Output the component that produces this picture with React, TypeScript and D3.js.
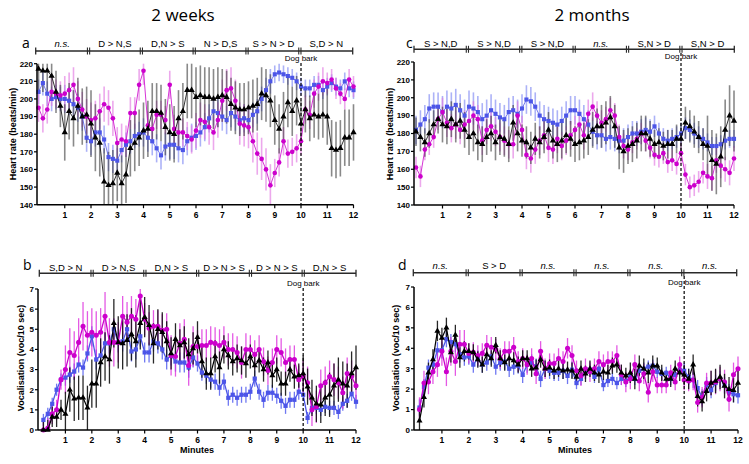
import React from "react";
import * as d3 from "d3";

// ---------- tick labels / categories ----------
const minuteTicks = [1, 2, 3, 4, 5, 6, 7, 8, 9, 10, 11, 12];
const hrTicks = [140, 150, 160, 170, 180, 190, 200, 210, 220];
const vocTicks = [0, 1, 2, 3, 4, 5, 6, 7];

const sigLabelsA = ["n.s.", "D > N,S", "D,N > S", "N > D,S", "S > N > D", "S,D > N"];
const sigLabelsB = ["S,D > N", "D > N,S", "D,N > S", "D > N > S", "D > N > S", "D,N > S"];
const sigLabelsC = ["S > N,D", "S > N,D", "S > N,D", "n.s.", "S,N > D", "S,N > D"];
const sigLabelsD = ["n.s.", "S > D", "n.s.", "n.s.", "n.s.", "n.s."];

// ---------- panel a : heart rate, 2 weeks (every 10 s, 0..12 min) ----------
const hrA_blue = [204,209,203,200,201,200,200,199,197,195, 190,178,176,181,181,177,167,166,165,171, 174,176,179,180,181,178,176,172,168,173, 174,174,172,171,176,178,179,181,184,189, 193,192,190,188,192,190,188,189,188,191, 193,200,205,210,214,215,214,213,212,210, 207,206,206,208,208,205,207,209,207,206, 210,206,205];
const hrA_magenta = [195,189,194,204,203,202,203,205,208,200, 194,190,188,189,193,197,195,189,175,177, 176,192,192,208,216,185,183,191,191,188, 208,183,181,181,179,177,182,188,187,184, 181,188,199,205,206,199,186,185,184,176, 169,166,160,151,158,164,176,169,170,172, 176,194,191,203,207,210,209,211,206,203, 200,211,207];
const hrA_black = [217,216,216,213,204,196,181,193,189,196, 190,191,186,178,175,153,151,152,158,152, 157,172,175,178,182,183,193,193,192,184, 181,180,189,193,205,205,201,202,201,201, 200,201,202,201,197,195,194,194,195,196, 197,203,202,199,188,183,190,198,193,199, 186,194,189,191,190,191,190,172,171,172, 178,178,181];
// error half-widths per minute
const errA_blue = [7, 8, 8, 7, 8, 8, 8, 8, 7, 5, 5, 5];
const errA_magenta = [8, 10, 10, 9, 8, 8, 10, 12, 12, 8, 8, 6];
const errA_black = [12, 16, 19, 16, 16, 16, 17, 15, 15, 14, 13, 16];

// ---------- panel b : vocalisation, 2 weeks (every 10 s, 10 s..12 min) ----------
const vocB_blue = [0.5,0.8,1.3,2.0,2.5,2.6,2.75,2.9,3.25,3.1, 3.8,4.65,3.5,3.7,4.3,4.3,5.0,4.35,4.4,5.0, 3.9,4.0,4.65,3.85,3.85,4.4,4.3,4.0,3.5,3.7, 3.4,3.35,3.35,3.1,3.6,3.3,2.85,2.7,2.5,2.4, 2.1,2.4,1.6,1.75,1.6,1.75,1.75,1.9,2.55,1.9, 1.5,1.85,1.85,1.7,1.45,1.2,1.5,1.5,1.9,1.75, 0.6,1.1,1.1,1.0,1.15,1.1,1.1,0.9,1.3,1.45, 1.8,1.4];
const vocB_magenta = [0,0.1,0.8,1.0,2.5,3.0,3.85,3.7,4.35,5.15, 4.7,4.85,4.7,4.85,5.65,4.35,4.35,4.35,5.65,5.35, 5.65,5.5,6.65,5.5,5.05,5.15,5.15,4.95,5.0,3.7, 3.65,4.3,4.5,3.2,4.15,4.15,4.2,4.2,4.35,4.3, 4.2,4.35,4.0,4.0,3.85,3.35,4.0,4.0,3.75,4.0, 3.4,2.95,3.35,4.0,3.85,3.35,3.5,3.5,2.5,2.65, 2.35,1.0,1.15,2.2,2.35,2.65,2.5,2.35,1.85,2.8, 2.65,2.2];
const vocB_black = [0,0,0.65,0.65,1.0,0.8,2.0,1.55,1.6,1.6, 1.1,2.3,2.3,3.35,3.65,3.5,5.3,4.35,4.3,4.45, 4.75,4.4,5.3,5.6,5.2,4.3,5.0,4.85,4.4,3.8, 4.5,4.2,4.35,3.75,4.05,4.6,3.4,2.8,2.8,3.65, 3.1,4.0,3.7,3.4,3.55,3.45,3.3,3.65,3.2,3.45, 3.0,3.35,2.7,3.0,2.3,2.3,3.0,2.65,2.7,2.8, 2.15,1.6,1.3,1.25,1.6,1.75,2.2,2.5,2.3,2.2, 2.8,3.1];
const errB_blue = [0.3, 0.4, 0.5, 0.5, 0.5, 0.5, 0.4, 0.4, 0.4, 0.4, 0.3, 0.35];
const errB_magenta = [0.5, 1.2, 1.2, 1.0, 0.8, 1.0, 0.8, 0.8, 0.7, 0.7, 0.8, 0.8];
const errB_black = [0.5, 1.1, 1.2, 1.3, 1.0, 0.8, 0.8, 0.7, 0.6, 0.6, 0.9, 1.1];

// ---------- panel c : heart rate, 2 months ----------
const hrC_blue = [182,185,188,194,195,195,192,195,194,196, 193,190,195,194,192,188,190,193,191,189, 188,192,193,191,194,199,198,195,190,188, 187,186,185,187,190,193,193,191,188,185, 181,179,179,177,178,177,176,176,178,180, 180,181,182,181,184,180,177,176,177,178, 180,183,182,180,178,177,175,173,173,174, 176,177,177];
const hrC_magenta = [161,156,171,174,178,188,192,186,183,185, 182,185,187,190,188,176,182,184,181,178, 176,174,174,190,182,168,166,171,176,179, 172,171,177,173,176,179,182,185,179,191, 195,190,186,188,193,190,178,173,171,175, 177,180,176,172,168,167,169,164,165,163, 169,157,150,151,153,158,156,155,165,162, 160,158,166];
const hrC_black = [181,178,175,180,185,188,185,184,188,185, 187,182,178,180,175,174,178,180,175,178, 177,174,186,180,176,175,172,177,175,178, 182,176,174,176,179,177,174,175,176,178, 182,184,184,186,189,184,172,170,173,174, 176,180,180,177,174,175,173,174,174,177, 177,186,184,181,178,174,173,165,163,167, 182,190,187];
const errC_blue = [8, 9, 9, 8, 8, 8, 8, 7, 7, 6, 6, 5];
const errC_magenta = [6, 8, 8, 8, 8, 8, 8, 7, 6, 6, 6, 7];
const errC_black = [8, 10, 10, 10, 9, 10, 10, 12, 10, 8, 9, 17];

// ---------- panel d : vocalisation, 2 months ----------
const vocD_blue = [1.1,2.1,3.05,3.2,3.9,3.9,4.45,4.3,4.2,3.7, 3.55,3.6,3.2,3.5,3.2,3.3,3.6,3.1,3.3,3.35, 3.0,3.1,3.15,2.7,3.2,3.3,3.1,2.5,3.0,2.9, 2.8,2.8,2.9,2.65,2.95,2.3,2.5,2.8,2.95,2.6, 3.0,2.2,2.4,2.5,2.3,2.5,2.4,2.6,2.5,2.9, 3.0,3.1,3.15,2.85,2.75,2.8,2.5,2.7,2.95,2.9, 2.6,2.45,2.05,1.6,2.2,1.95,2.3,2.5,2.2,1.85, 1.75,1.7];
const vocD_magenta = [1.0,2.3,2.35,2.85,3.2,3.85,2.85,3.85,3.35,4.2, 4.2,3.75,3.8,3.65,3.75,4.15,4.05,3.95,3.5,3.85, 3.85,4.05,3.35,3.5,3.2,3.5,2.75,3.85,3.0,3.25, 3.25,3.5,3.35,4.0,3.65,2.9,2.65,3.0,2.85,3.0, 3.35,3.2,3.35,3.35,3.65,2.7,2.35,2.5,3.2,2.4, 2.75,1.85,2.85,2.2,2.2,2.2,2.8,2.35,3.2,2.45, 2.4,2.45,1.35,1.6,2.3,2.3,2.35,2.5,2.35,1.5, 2.7,3.0];
const vocD_black = [0.45,1.6,2.8,3.45,4.85,4.5,5.0,3.8,4.65,3.55, 3.85,3.85,3.8,3.45,3.2,3.7,3.5,4.15,3.5,3.3, 3.5,3.4,3.2,3.5,3.5,3.0,3.05,3.45,3.0,3.05, 2.9,3.0,2.9,2.95,2.9,2.6,3.0,2.75,3.0,2.8, 2.7,2.85,2.8,3.15,3.2,2.8,2.65,2.8,2.5,3.15, 3.0,2.8,3.15,3.15,2.8,2.5,2.5,3.0,2.8,2.7, 2.5,3.2,1.65,1.4,1.9,2.3,2.4,2.6,2.15,2.0, 1.95,2.3];
const errD_blue = [0.4, 0.4, 0.4, 0.4, 0.4, 0.4, 0.3, 0.3, 0.3, 0.3, 0.4, 0.4];
const errD_magenta = [0.6, 0.7, 0.5, 0.5, 0.5, 0.5, 0.5, 0.5, 0.5, 0.4, 0.5, 0.6];
const errD_black = [0.5, 0.5, 0.4, 0.4, 0.4, 0.4, 0.4, 0.4, 0.5, 0.4, 0.5, 0.6];

// ---------- styling ----------
const FONT = "'Liberation Sans', Arial, sans-serif";
const TITLE_FONT = "'Open Sans', 'Liberation Sans', sans-serif";
const BLUE = "#4c55e8";
const MAG = "#cc00cc";
const BLK = "#000000";

type Series = {
  values: number[];
  err: number[];
  color: string;
  errColor: string;
  errOpacity: number;
  errWidth: number;
  shape: d3.SymbolType;
  size: number;
  lineWidth: number;
};

type PanelCfg = {
  axisX: number;
  xRange: [number, number];
  yDomain: [number, number];
  yRange: [number, number];
  yTicks: number[];
  start: number;
  series: Series[];
  bar: { x0: number; x1: number; y: number; labels: string[]; labelY: number };
  dogY: number;
  dogLineTop: number;
  letter: { x: number; y: number; t: string };
  yLabel: { x: number; y: number; t: string };
  minutes?: { x: number; y: number };
};

function hrSeries(values: number[], err: number[], kind: "b" | "m" | "k"): Series {
  if (kind === "b")
    return { values, err, color: BLUE, errColor: "#7f88f3", errOpacity: 0.65, errWidth: 1.6, shape: d3.symbolSquare, size: 17, lineWidth: 0.8 };
  if (kind === "m")
    return { values, err, color: MAG, errColor: "#e27ae2", errOpacity: 0.65, errWidth: 1.6, shape: d3.symbolCircle, size: 17, lineWidth: 0.8 };
  return { values, err, color: BLK, errColor: "#3a3a3a", errOpacity: 0.6, errWidth: 1.6, shape: d3.symbolTriangle, size: 17, lineWidth: 0.8 };
}
function vocSeries(values: number[], err: number[], kind: "b" | "m" | "k"): Series {
  if (kind === "b")
    return { values, err, color: BLUE, errColor: "#5660ee", errOpacity: 0.85, errWidth: 1.3, shape: d3.symbolSquare, size: 18, lineWidth: 1.3 };
  if (kind === "m")
    return { values, err, color: MAG, errColor: "#dd30dd", errOpacity: 0.8, errWidth: 1.3, shape: d3.symbolCircle, size: 20, lineWidth: 1.3 };
  return { values, err, color: BLK, errColor: "#111111", errOpacity: 0.9, errWidth: 1.3, shape: d3.symbolTriangle, size: 16, lineWidth: 1.2 };
}

type Pt = { t: number; v: number; e: number };

function Panel({ c }: { c: PanelCfg }) {
  const x = d3.scaleLinear().domain([0, 12]).range(c.xRange);
  const y = d3.scaleLinear().domain(c.yDomain).range(c.yRange);
  const bx = d3.scaleLinear().domain([0, 12]).range([c.bar.x0, c.bar.x1]);
  const [lo, hi] = c.yDomain;
  const axisY = c.yRange[0];
  const topY = c.yRange[1];
  const line = d3.line<Pt>().x((d) => x(d.t)).y((d) => y(d.v));
  const data: Pt[][] = c.series.map((s) =>
    s.values.map((v, i) => {
      const t = (i + c.start) / 6;
      return { t, v, e: s.err[Math.min(11, Math.floor(t))] };
    })
  );
  const boundaries = [2, 4, 6, 8, 10];
  const barColor = "#2a2a2a";
  return (
    <g>
      {/* error bars */}
      {c.series.map((s, si) => (
        <g key={"e" + si} stroke={s.errColor} strokeOpacity={s.errOpacity} strokeWidth={s.errWidth}>
          {data[si].map((d, i) => (
            <line key={i} x1={x(d.t)} x2={x(d.t)} y1={y(Math.max(lo, d.v - d.e))} y2={y(Math.min(hi, d.v + d.e))} />
          ))}
        </g>
      ))}
      {/* lines and markers */}
      {c.series.map((s, si) => (
        <g key={"s" + si}>
          <path d={line(data[si]) || ""} fill="none" stroke={s.color} strokeWidth={s.lineWidth} />
          {data[si].map((d, i) => (
            <path
              key={i}
              d={d3.symbol().type(s.shape).size(s.size)() || ""}
              transform={`translate(${x(d.t)},${y(d.v)})`}
              fill={s.color}
            />
          ))}
        </g>
      ))}
      {/* axes */}
      <line x1={c.axisX} x2={c.axisX} y1={topY} y2={axisY} stroke="#000" strokeWidth={1.5} />
      <line x1={c.axisX} x2={c.xRange[1]} y1={axisY} y2={axisY} stroke="#000" strokeWidth={1.5} />
      {c.yTicks.map((t) => (
        <g key={"yt" + t}>
          <line x1={c.axisX - 3} x2={c.axisX} y1={y(t)} y2={y(t)} stroke="#000" strokeWidth={1.2} />
          <text x={c.axisX - 4} y={y(t)} dy="0.35em" textAnchor="end" fontFamily={FONT} fontWeight="bold" fontSize={8}>
            {t}
          </text>
        </g>
      ))}
      {minuteTicks.map((t) => (
        <g key={"xt" + t}>
          <line x1={x(t)} x2={x(t)} y1={axisY} y2={axisY + 3.5} stroke="#000" strokeWidth={1.2} />
          <text x={x(t)} y={axisY + 13} textAnchor="middle" fontFamily={FONT} fontWeight="bold" fontSize={8.5}>
            {t}
          </text>
        </g>
      ))}
      {/* dog bark */}
      <line x1={x(10)} x2={x(10)} y1={c.dogLineTop} y2={axisY} stroke="#000" strokeWidth={1.2} strokeDasharray="3,2" />
      <text x={x(10)} y={c.dogY} textAnchor="middle" fontFamily={FONT} fontSize={8}>
        Dog bark
      </text>
      {/* significance bar */}
      <line x1={c.bar.x0} x2={c.bar.x1} y1={c.bar.y} y2={c.bar.y} stroke={barColor} strokeWidth={1.5} />
      <line x1={c.bar.x0} x2={c.bar.x0} y1={c.bar.y - 3.5} y2={c.bar.y + 3.5} stroke={barColor} strokeWidth={1.3} />
      <line x1={c.bar.x1} x2={c.bar.x1} y1={c.bar.y - 3.5} y2={c.bar.y + 3.5} stroke={barColor} strokeWidth={1.3} />
      {boundaries.map((b) => (
        <g key={"bd" + b}>
          <line x1={bx(b) - 1.1} x2={bx(b) - 1.1} y1={c.bar.y - 3.5} y2={c.bar.y + 3.5} stroke={barColor} strokeWidth={1.1} />
          <line x1={bx(b) + 1.1} x2={bx(b) + 1.1} y1={c.bar.y - 3.5} y2={c.bar.y + 3.5} stroke={barColor} strokeWidth={1.1} />
        </g>
      ))}
      {c.bar.labels.map((l, i) => (
        <text
          key={"bl" + i}
          x={bx(i * 2 + 1)}
          y={c.bar.labelY}
          textAnchor="middle"
          fontFamily={FONT}
          fontSize={9.5}
          fontStyle={l === "n.s." ? "italic" : "normal"}
        >
          {l}
        </text>
      ))}
      {/* letter */}
      <text x={c.letter.x} y={c.letter.y} fontFamily={TITLE_FONT} fontSize={14}>
        {c.letter.t}
      </text>
      {/* y label */}
      <text
        transform={`translate(${c.yLabel.x},${c.yLabel.y}) rotate(-90)`}
        textAnchor="middle"
        fontFamily={FONT}
        fontWeight="bold"
        fontSize={9}
      >
        {c.yLabel.t}
      </text>
      {c.minutes && (
        <text x={c.minutes.x} y={c.minutes.y} textAnchor="middle" fontFamily={FONT} fontWeight="bold" fontSize={9}>
          Minutes
        </text>
      )}
    </g>
  );
}

export default function App() {
  const panelA: PanelCfg = {
    axisX: 37,
    xRange: [38.5, 353.5],
    yDomain: [140, 220],
    yRange: [204.7, 63.7],
    yTicks: hrTicks,
    start: 0,
    series: [hrSeries(hrA_blue, errA_blue, "b"), hrSeries(hrA_magenta, errA_magenta, "m"), hrSeries(hrA_black, errA_black, "k")],
    bar: { x0: 35.7, x1: 352.7, y: 51, labels: sigLabelsA, labelY: 47 },
    dogY: 61,
    dogLineTop: 63,
    letter: { x: 22, y: 48, t: "a" },
    yLabel: { x: 16, y: 134, t: "Heart rate (beats/min)" },
  };
  const panelB: PanelCfg = {
    axisX: 38,
    xRange: [39, 356],
    yDomain: [0, 7],
    yRange: [430, 289],
    yTicks: vocTicks,
    start: 1,
    series: [vocSeries(vocB_blue, errB_blue, "b"), vocSeries(vocB_magenta, errB_magenta, "m"), vocSeries(vocB_black, errB_black, "k")],
    bar: { x0: 39.3, x1: 356, y: 273.3, labels: sigLabelsB, labelY: 270.5 },
    dogY: 286,
    dogLineTop: 288,
    letter: { x: 23, y: 269.5, t: "b" },
    yLabel: { x: 24, y: 358, t: "Vocalisation (voc/10 sec)" },
    minutes: { x: 197, y: 453 },
  };
  const panelC: PanelCfg = {
    axisX: 414,
    xRange: [416, 734],
    yDomain: [140, 220],
    yRange: [205, 62],
    yTicks: hrTicks,
    start: 0,
    series: [hrSeries(hrC_blue, errC_blue, "b"), hrSeries(hrC_magenta, errC_magenta, "m"), hrSeries(hrC_black, errC_black, "k")],
    bar: { x0: 414, x1: 734.3, y: 49.3, labels: sigLabelsC, labelY: 46.5 },
    dogY: 58.5,
    dogLineTop: 53,
    letter: { x: 406, y: 48, t: "c" },
    yLabel: { x: 393, y: 134, t: "Heart rate (beats/min)" },
  };
  const panelD: PanelCfg = {
    axisX: 414,
    xRange: [415, 738],
    yDomain: [0, 7],
    yRange: [430, 287],
    yTicks: vocTicks,
    start: 1,
    series: [vocSeries(vocD_blue, errD_blue, "b"), vocSeries(vocD_magenta, errD_magenta, "m"), vocSeries(vocD_black, errD_black, "k")],
    bar: { x0: 413.3, x1: 736.7, y: 272.7, labels: sigLabelsD, labelY: 269.3 },
    dogY: 285,
    dogLineTop: 276,
    letter: { x: 398, y: 269.5, t: "d" },
    yLabel: { x: 399, y: 358, t: "Vocalisation (voc/10 sec)" },
    minutes: { x: 575, y: 453 },
  };

  return (
    <svg
      width={749}
      height={464}
      viewBox="0 0 749 464"
      style={{ position: "absolute", left: 0, top: 0, background: "#fff" }}
    >
      <rect width={749} height={464} fill="#fff" />
      <text x={183} y={21} textAnchor="middle" fontFamily={TITLE_FONT} fontSize={17}>
        2 weeks
      </text>
      <text x={592} y={21} textAnchor="middle" fontFamily={TITLE_FONT} fontSize={17}>
        2 months
      </text>
      <Panel c={panelA} />
      <Panel c={panelB} />
      <Panel c={panelC} />
      <Panel c={panelD} />
    </svg>
  );
}
